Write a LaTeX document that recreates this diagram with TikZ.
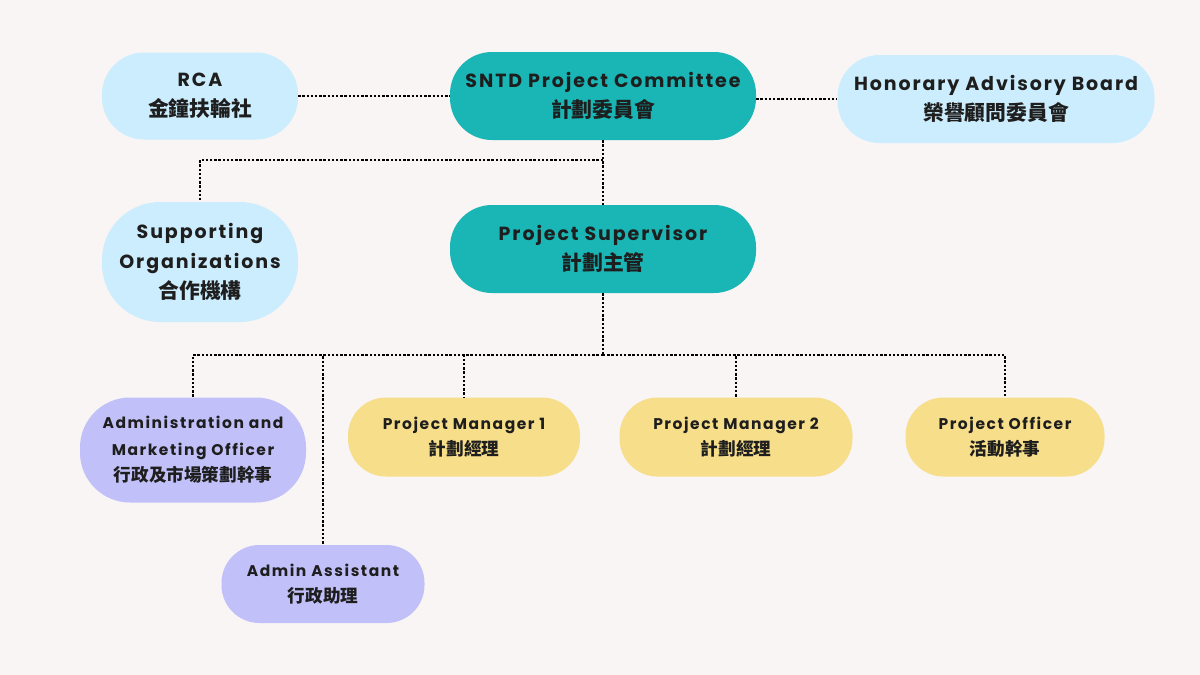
\documentclass[tikz,border=0pt]{standalone}
\usepackage{fontspec}
\setmainfont{Poppins}[LetterSpace=10]
\newfontfamily\cjkfont{Noto Sans CJK TC}
\newcommand{\zh}[1]{{\cjkfont\bfseries\fontsize{20.8}{29}\selectfont #1}}
\newcommand{\zhs}[1]{{\cjkfont\bfseries\fontsize{17.6}{26}\selectfont #1}}
\definecolor{bgc}{HTML}{F8F5F4}
\definecolor{lblue}{HTML}{CCEDFD}
\definecolor{teal}{HTML}{1AB5B5}
\definecolor{lilac}{HTML}{C1C0F8}
\definecolor{sand}{HTML}{F7DE8A}
\definecolor{ink}{HTML}{1E1E1E}
\tikzset{
  box/.style={draw=none, align=center, inner sep=0pt, text=ink, font=\bfseries\fontsize{19}{30}\selectfont},
  small/.style={font=\bfseries\fontsize{15.5}{26.5}\selectfont},
  conn/.style={draw=black, line width=2.8pt, dash pattern=on 2.4pt off 1.8pt},
}
\begin{document}
\begin{tikzpicture}[x=1pt,y=-1pt]
\fill[bgc] (0,0) rectangle (1200,675);
\useasboundingbox (0,0) rectangle (1200,675);
\node[box, fill=lblue, minimum width=196pt, minimum height=87pt, rounded corners=42pt] (rca) at (200,96) {RCA\\\zh{金鐘扶輪社}};
\node[box, fill=teal, minimum width=306pt, minimum height=88pt, rounded corners=42pt] (sntd) at (603,96) {SNTD Project Committee\\\zh{計劃委員會}};
\node[box, fill=lblue, minimum width=317pt, minimum height=88pt, rounded corners=42pt] (hon) at (996,99) {Honorary Advisory Board\\\zh{榮譽顧問委員會}};
\node[box, fill=lblue, minimum width=196pt, minimum height=120pt, rounded corners=58pt] (supp) at (200,262) {Supporting\\Organizations\\\zh{合作機構}};
\node[box, fill=teal, minimum width=306pt, minimum height=88pt, rounded corners=42pt] (sup) at (603,249) {Project Supervisor\\\zh{計劃主管}};
\node[box, small, fill=lilac, minimum width=226pt, minimum height=105pt, rounded corners=50pt] (amo) at (193,450) {Administration and\\Marketing Officer\\\zhs{行政及市場策劃幹事}};
\node[box, small, fill=sand, minimum width=232pt, minimum height=79pt, rounded corners=38pt] (pm1) at (464,437) {Project Manager 1\\\zhs{計劃經理}};
\node[box, small, fill=sand, minimum width=233pt, minimum height=79pt, rounded corners=38pt] (pm2) at (736,437) {Project Manager 2\\\zhs{計劃經理}};
\node[box, small, fill=sand, minimum width=199pt, minimum height=79pt, rounded corners=38pt] (po) at (1005,437) {Project Officer\\\zhs{活動幹事}};
\node[box, small, fill=lilac, minimum width=203pt, minimum height=78pt, rounded corners=38pt] (aa) at (323,584) {Admin Assistant\\\zhs{行政助理}};
\coordinate (b1) at (603,160);
\coordinate (b2) at (603,355);
\draw[conn] (rca.east) -- (sntd.west);
\draw[conn] (hon.west -| sntd.east) -- (hon.west);
\draw[conn] (sntd.south) -- (sup.north);
\draw[conn] (b1) -| (supp.north);
\draw[conn] (sup.south) -- (b2);
\draw[conn] (b2) -| (amo.north);
\draw[conn] (b2) -| (aa.north);
\draw[conn] (b2) -| (pm1.north);
\draw[conn] (b2) -| (pm2.north);
\draw[conn] (b2) -| (po.north);
\end{tikzpicture}
\end{document}
